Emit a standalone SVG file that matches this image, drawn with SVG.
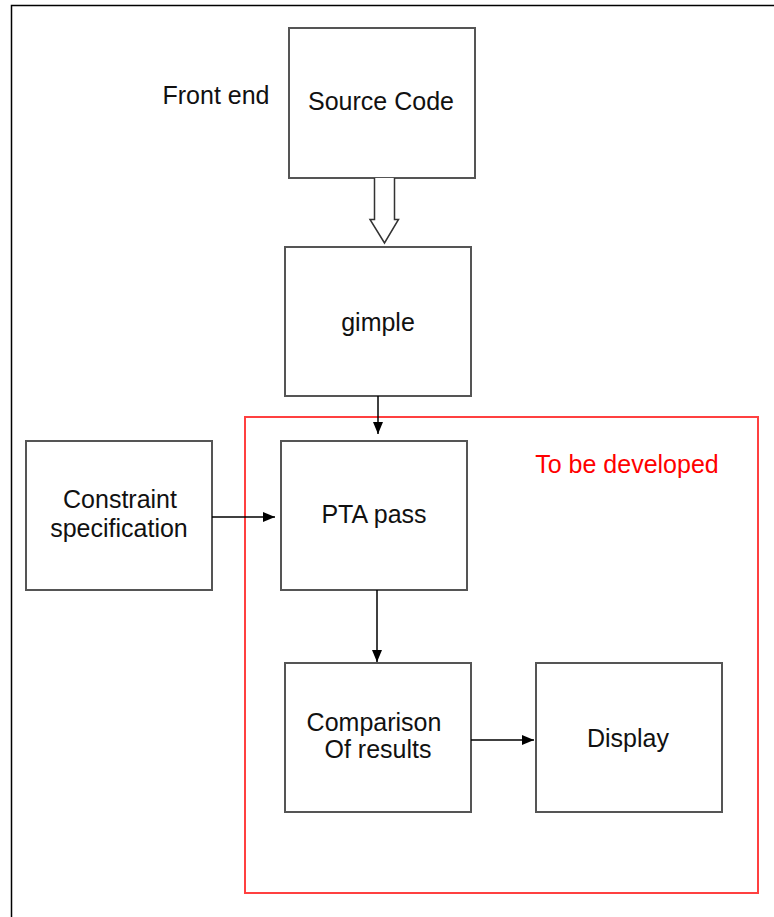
<svg xmlns="http://www.w3.org/2000/svg" width="774" height="917" viewBox="0 0 774 917">
  <style>
    .box { fill: #ffffff; stroke: #555555; stroke-width: 2; }
    .lbl { font-family: "Liberation Sans", Arial, sans-serif; font-size: 25px; fill: #111111; text-anchor: middle; }
    .edge { stroke: #000000; stroke-width: 1.5; fill: none; marker-end: url(#head); }
  </style>
  <defs>
    <marker id="head" viewBox="0 0 12 10" refX="12" refY="5" markerWidth="12" markerHeight="10" markerUnits="userSpaceOnUse" orient="auto">
      <path d="M0,0 L12,5 L0,10 z" fill="#000000"/>
    </marker>
  </defs>

  <rect width="774" height="917" fill="#ffffff"/>
  <!-- page frame -->
  <path d="M11.5,917 V5.5 H774" fill="none" stroke="#000000" stroke-width="1.5"/>

  <!-- development region -->
  <g id="region-developed">
    <rect x="245" y="417" width="513" height="476" fill="none" stroke="#ff4040" stroke-width="2"/>
    <text x="627" y="473" class="lbl" style="fill:#ff0000">To be developed</text>
  </g>

  <g id="label-front-end">
    <text x="216" y="104" class="lbl">Front end</text>
  </g>

  <g id="node-source-code">
    <rect x="289" y="28" width="186" height="150" class="box"/>
    <text x="381" y="110" class="lbl">Source Code</text>
  </g>

  <g id="node-gimple">
    <rect x="285" y="247" width="186" height="149" class="box"/>
    <text x="378" y="331" class="lbl">gimple</text>
  </g>

  <g id="node-constraint">
    <rect x="26" y="441" width="186" height="149" class="box"/>
    <text x="120" y="508" class="lbl">Constraint</text>
    <text x="119" y="537" class="lbl">specification</text>
  </g>

  <g id="node-pta">
    <rect x="281" y="441" width="186" height="149" class="box"/>
    <text x="374" y="523" class="lbl">PTA pass</text>
  </g>

  <g id="node-comparison">
    <rect x="285" y="663" width="186" height="149" class="box"/>
    <text x="374" y="731" class="lbl">Comparison</text>
    <text x="378" y="758" class="lbl">Of results</text>
  </g>

  <g id="node-display">
    <rect x="536" y="663" width="186" height="149" class="box"/>
    <text x="628" y="747" class="lbl">Display</text>
  </g>

  <g id="connectors">
    <!-- hollow block arrow: source code to gimple -->
    <path d="M374.5,178 V219.5 H370 L384.5,243 L398.5,219.5 H394.5 V178" fill="#ffffff" stroke="#333333" stroke-width="1.5" stroke-linejoin="miter"/>
    <line x1="378" y1="396" x2="378" y2="434" class="edge"/>
    <line x1="212" y1="517" x2="275" y2="517" class="edge"/>
    <line x1="377" y1="590" x2="377" y2="662" class="edge"/>
    <line x1="471" y1="740" x2="534" y2="740" class="edge"/>
  </g>
</svg>
